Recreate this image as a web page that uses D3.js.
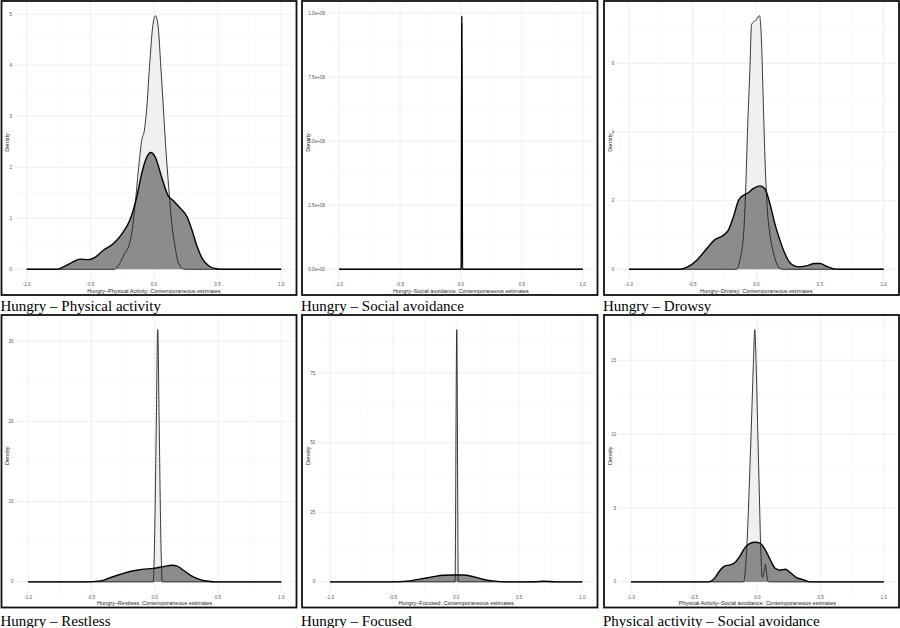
<!DOCTYPE html>
<html>
<head>
<meta charset="utf-8">
<script src="https://cdn.jsdelivr.net/npm/d3@7"></script>
<style>
  body { margin: 0; background: #fff; }
  svg { display: block; }
</style>
</head>
<body>
<svg id="chart" width="900" height="628"></svg>
<script>
// Panel titles (under each box) and the x axis titles inside
const panelTitles = [
  "Hungry – Physical activity",
  "Hungry – Social avoidance",
  "Hungry – Drowsy",
  "Hungry – Restless",
  "Hungry – Focused",
  "Physical activity – Social avoidance"
];
const axisTitles = [
  "Hungry–Physical Activity: Contemporaneous estimates",
  "Hungry–Social avoidance: Contemporaneous estimates",
  "Hungry–Drowsy: Contemporaneous estimates",
  "Hungry–Restless: Contemporaneous estimates",
  "Hungry–Focused: Contemporaneous estimates",
  "Physical Activity–Social avoidance: Contemporaneous estimates"
];
const xTicks = [-1, -0.5, 0, 0.5, 1];
const yTicks = [
  [0, 1, 2, 3, 4, 5],
  [0, 2.5e8, 5e8, 7.5e8, 1e9],
  [0, 2, 4, 6],
  [0, 10, 20, 30],
  [0, 25, 50, 75],
  [0, 5, 10, 15]
];

// Density curves, [estimate, density]
const physLight = [[-1,0],[-0.31,0],[-0.27,0.11],[-0.23,0.31],[-0.20,0.44],[-0.175,0.70],[-0.15,1.22],[-0.12,2.0],[-0.096,2.53],[-0.075,2.73],[-0.056,3.18],[-0.035,3.97],[-0.01,4.75],[0.012,4.97],[0.033,4.75],[0.054,3.97],[0.075,3.12],[0.096,2.27],[0.12,1.48],[0.14,0.90],[0.166,0.44],[0.19,0.14],[0.23,0.01],[0.26,0],[1,0]];
const physDark = [[-1,0],[-0.77,0],[-0.685,0.08],[-0.64,0.14],[-0.58,0.2],[-0.515,0.19],[-0.46,0.24],[-0.40,0.37],[-0.32,0.50],[-0.25,0.70],[-0.19,0.96],[-0.135,1.42],[-0.096,1.88],[-0.056,2.20],[-0.025,2.29],[0.01,2.20],[0.06,1.81],[0.11,1.45],[0.15,1.35],[0.21,1.19],[0.26,1.03],[0.30,0.76],[0.34,0.44],[0.38,0.21],[0.43,0.07],[0.49,0.01],[0.55,0],[1,0]];

const socialLight = [[-1,0],[0.004,0],[0.007,9.6e8],[0.010,0],[1,0]];
const socialDark = [[-1,0],[0.002,0],[0.007,9.9e8],[0.013,0],[1,0]];

const drowsyLight = [[-1,0],[-0.156,0],[-0.13,0.26],[-0.10,1.04],[-0.085,2.2],[-0.07,3.96],[-0.05,5.9],[-0.038,7.12],[-0.02,7.22],[0.001,7.27],[0.014,7.36],[0.025,7.39],[0.04,6.68],[0.054,4.93],[0.07,2.99],[0.085,1.82],[0.106,1.04],[0.13,0.55],[0.16,0.17],[0.185,0.02],[0.21,0],[1,0]];
const drowsyDark = [[-1,0],[-0.6,0],[-0.54,0.07],[-0.47,0.26],[-0.39,0.60],[-0.33,0.85],[-0.26,0.99],[-0.22,1.14],[-0.18,1.53],[-0.14,2.01],[-0.10,2.16],[-0.064,2.23],[-0.025,2.35],[0.028,2.43],[0.067,2.35],[0.106,1.92],[0.145,1.33],[0.185,0.85],[0.224,0.46],[0.26,0.21],[0.30,0.10],[0.34,0.07],[0.39,0.10],[0.46,0.17],[0.50,0.17],[0.55,0.09],[0.60,0.02],[0.65,0],[1,0]];

const restlessLight = [[-1,0],[-0.012,0],[0.0,6],[0.012,19],[0.024,31.45],[0.036,19],[0.048,6],[0.06,0],[1,0]];
const restlessDark = [[-1,0],[-0.55,0],[-0.43,0.12],[-0.35,0.54],[-0.27,0.95],[-0.195,1.29],[-0.13,1.49],[-0.063,1.62],[0.003,1.70],[0.07,1.91],[0.135,2.07],[0.174,1.99],[0.227,1.45],[0.29,0.75],[0.36,0.29],[0.425,0.08],[0.49,0],[1,0]];

const focusedLight = [[-1,0],[-0.009,0],[0.005,90.6],[0.017,0],[1,0]];
const focusedDark = [[-1,0],[-0.52,0],[-0.37,0.36],[-0.26,1.2],[-0.18,1.9],[-0.10,2.4],[-0.024,2.5],[0.055,2.5],[0.135,1.9],[0.21,0.96],[0.29,0.36],[0.40,0.02],[0.5,0],[0.62,0.05],[0.70,0.24],[0.79,0],[1,0]];

const paSocialLight = [[-1,0],[-0.11,0],[-0.084,2.3],[-0.063,6.8],[-0.045,11.3],[-0.032,14.7],[-0.021,17.07],[-0.01,14.7],[0.003,10.2],[0.016,5.7],[0.026,2.3],[0.04,0.3],[0.047,0.5],[0.058,0.9],[0.063,1.19],[0.071,0.74],[0.082,0.07],[0.095,0],[1,0]];
const paSocialDark = [[-1,0],[-0.39,0],[-0.335,0.29],[-0.30,0.74],[-0.256,1.08],[-0.216,1.15],[-0.177,1.31],[-0.137,1.76],[-0.098,2.32],[-0.058,2.6],[-0.018,2.68],[0.021,2.62],[0.06,2.2],[0.10,1.53],[0.14,0.92],[0.18,0.79],[0.22,0.86],[0.26,0.63],[0.31,0.29],[0.365,0.14],[0.42,0],[1,0]];

const lightCurves = [physLight, socialLight, drowsyLight, restlessLight, focusedLight, paSocialLight];
const darkCurves = [physDark, socialDark, drowsyDark, restlessDark, focusedDark, paSocialDark];

// Layout
const cols = [{ x: 1.5, w: 295 }, { x: 302, w: 295.5 }, { x: 604, w: 295 }],
  rows = [{ y: 1, h: 294, title: 310.5 }, { y: 315, h: 292.5, title: 626 }],
  leftInset = [12.5, 25, 12.3, 14, 15.4, 14.4],
  rightInset = 2.6,
  topInset = 2,
  bottomInset = 13,
  lightFill = "#f0f0f0",
  darkFill = "#8c8c8c";

const svg = d3.select("#chart");

panelTitles.forEach((title, i) => {
  const col = cols[i % 3], row = rows[Math.floor(i / 3)];
  const left = col.x + leftInset[i],
    right = col.x + col.w - rightInset,
    top = row.y + topInset,
    bottom = row.y + row.h - bottomInset;

  const yMax = d3.max(lightCurves[i].concat(darkCurves[i]), d => d[1]);

  // ggplot style 5% expansion
  const x = d3.scaleLinear().domain([-1.1, 1.1]).range([left, right]);
  const y = d3.scaleLinear().domain([-0.05 * yMax, 1.05 * yMax]).range([bottom, top]);

  const g = svg.append("g");

  // minor grid lines
  const xMinor = [-0.75, -0.25, 0.25, 0.75];
  const step = yTicks[i][1] - yTicks[i][0];
  const yMinor = yTicks[i].map(v => v + step / 2).filter(v => v < 1.05 * yMax);

  g.selectAll(".xminor").data(xMinor).enter().append("line")
    .attr("x1", d => x(d)).attr("x2", d => x(d))
    .attr("y1", top).attr("y2", bottom)
    .attr("stroke", "#f2f2f2").attr("stroke-width", 0.5);
  g.selectAll(".yminor").data(yMinor).enter().append("line")
    .attr("x1", left).attr("x2", right)
    .attr("y1", d => y(d)).attr("y2", d => y(d))
    .attr("stroke", "#f2f2f2").attr("stroke-width", 0.5);

  // major grid lines
  g.selectAll(".xmajor").data(xTicks).enter().append("line")
    .attr("x1", d => x(d)).attr("x2", d => x(d))
    .attr("y1", top).attr("y2", bottom)
    .attr("stroke", "#e8e8e8").attr("stroke-width", 0.7);
  g.selectAll(".ymajor").data(yTicks[i]).enter().append("line")
    .attr("x1", left).attr("x2", right)
    .attr("y1", d => y(d)).attr("y2", d => y(d))
    .attr("stroke", "#e8e8e8").attr("stroke-width", 0.7);

  const area = d3.area()
    .x(d => x(d[0]))
    .y0(y(0))
    .y1(d => y(d[1]))
    .curve(d3.curveMonotoneX);
  const line = d3.line()
    .x(d => x(d[0]))
    .y(d => y(d[1]))
    .curve(d3.curveMonotoneX);

  g.append("path").datum(lightCurves[i]).attr("d", area).attr("fill", lightFill);
  g.append("path").datum(darkCurves[i]).attr("d", area).attr("fill", darkFill);
  g.append("path").datum(lightCurves[i]).attr("d", line)
    .attr("fill", "none").attr("stroke", "#222").attr("stroke-width", 0.9)
    .attr("stroke-linejoin", "round");
  g.append("path").datum(darkCurves[i]).attr("d", line)
    .attr("fill", "none").attr("stroke", "#000").attr("stroke-width", 1.4)
    .attr("stroke-linejoin", "round");

  // tick labels
  const yFormat = i === 1 ? (v => v.toExponential(1).replace("e+", "e+0")) : (v => String(v));
  g.selectAll(".ylab").data(yTicks[i]).enter().append("text")
    .attr("x", left - 2)
    .attr("y", d => y(d))
    .attr("dy", "0.35em")
    .attr("text-anchor", "end")
    .style("font", "4.6px 'Liberation Sans', Arial, sans-serif")
    .style("fill", "#555")
    .text(yFormat);
  g.selectAll(".xlab").data(xTicks).enter().append("text")
    .attr("x", d => x(d))
    .attr("y", bottom + 2.5)
    .attr("dy", "0.35em")
    .attr("text-anchor", "middle")
    .style("font", "4.6px 'Liberation Sans', Arial, sans-serif")
    .style("fill", "#555")
    .text(d => d3.format(".1f")(d).replace("−", "-"));

  // axis titles
  g.append("text")
    .attr("x", (left + right) / 2)
    .attr("y", bottom + 8.7)
    .attr("dy", "0.35em")
    .attr("text-anchor", "middle")
    .style("font", "5.5px 'Liberation Sans', Arial, sans-serif")
    .style("fill", "#222")
    .text(axisTitles[i]);
  g.append("text")
    .attr("transform", "translate(" + (col.x + 6) + "," + (top + bottom) / 2 + ") rotate(-90)")
    .attr("dy", "0.35em")
    .attr("text-anchor", "middle")
    .style("font", "5.5px 'Liberation Sans', Arial, sans-serif")
    .style("fill", "#222")
    .text("Density");

  // panel border
  g.append("rect")
    .attr("x", col.x).attr("y", row.y)
    .attr("width", col.w).attr("height", row.h)
    .attr("fill", "none").attr("stroke", "#111").attr("stroke-width", 1.8);

  // caption under the panel
  svg.append("text")
    .attr("x", col.x - 1)
    .attr("y", row.title)
    .style("font", "15px 'Liberation Serif', 'Times New Roman', serif")
    .style("fill", "#000")
    .text(title);
});
</script>
</body>
</html>
